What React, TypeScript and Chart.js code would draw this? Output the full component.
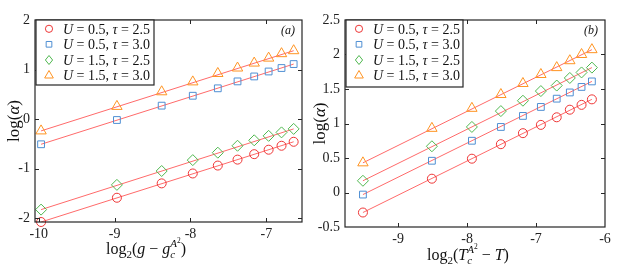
import React, { useEffect, useRef } from "react";
import { Chart, registerables } from "chart.js";

Chart.register(...registerables);

// ---------- data ----------
const legendU = ["0.5", "0.5", "1.5", "1.5"];
const legendTau = ["2.5", "3.0", "2.5", "3.0"];

// Panel (a)
const xA = [-9.97, -8.97, -8.38, -7.97, -7.64, -7.38, -7.16, -6.97, -6.8, -6.64];
const aU05t25 = [-2.08, -1.59, -1.3, -1.1, -0.94, -0.82, -0.71, -0.62, -0.54, -0.46];
const aU05t30 = [-0.51, -0.02, 0.27, 0.47, 0.62, 0.76, 0.86, 0.96, 1.03, 1.11];
const aU15t25 = [-1.83, -1.33, -1.05, -0.83, -0.68, -0.54, -0.43, -0.34, -0.27, -0.2];
const aU15t30 = [-0.24, 0.255, 0.55, 0.75, 0.92, 1.03, 1.13, 1.23, 1.32, 1.38];
const xFitA = [-9.97, -6.64];
const fitA_U05t25 = [-2.08, -0.46];
const fitA_U05t30 = [-0.51, 1.11];
const fitA_U15t25 = [-1.83, -0.2];
const fitA_U15t30 = [-0.24, 1.38];
const xTicksA = [-10, -9, -8, -7];
const yTicksA = [-2, -1, 0, 1, 2];

// Panel (b)
const xB = [-9.51, -8.51, -7.93, -7.51, -7.19, -6.93, -6.7, -6.51, -6.34, -6.19];
const bU05t25 = [-0.29, 0.2, 0.49, 0.7, 0.86, 0.98, 1.09, 1.2, 1.27, 1.35];
const bU05t30 = [-0.03, 0.46, 0.75, 0.95, 1.11, 1.24, 1.36, 1.45, 1.53, 1.61];
const bU15t25 = [0.17, 0.67, 0.95, 1.18, 1.33, 1.47, 1.55, 1.66, 1.74, 1.81];
const bU15t30 = [0.43, 0.93, 1.22, 1.42, 1.58, 1.71, 1.81, 1.91, 2.0, 2.07];
const xFitB = [-9.51, -6.19];
const fitB_U05t25 = [-0.29, 1.35];
const fitB_U05t30 = [-0.03, 1.61];
const fitB_U15t25 = [0.17, 1.81];
const fitB_U15t30 = [0.43, 2.07];
const xTicksB = [-9, -8, -7, -6];
const yTicksB = [-0.5, 0, 0.5, 1, 1.5, 2, 2.5];

// ---------- styles ----------
const FONT = '"Liberation Serif", "DejaVu Serif", serif';
const INK = "#262626";
const FIT = "rgba(255, 80, 80, 0.85)";
const markers = [
  { style: "circle", color: "#ee3535", r: 4.5, lr: 3.6 },
  { style: "rect", color: "#4f8fd3", r: 4.8, lr: 4 },
  { style: "rectRot", color: "#4fb84f", r: 5.5, lr: 4.5 },
  { style: "triangle", color: "#ff9422", r: 6, lr: 5 },
];

type Seg = { t: string; it?: boolean; s?: number; dy?: number; adv?: boolean };

function segFont(g: Seg, base: number) {
  return `${g.it ? "italic " : ""}${g.s ?? base}px ${FONT}`;
}
function measureSegs(ctx: CanvasRenderingContext2D, segs: Seg[], base: number) {
  let w = 0;
  for (const g of segs) {
    ctx.font = segFont(g, base);
    if (g.adv !== false) w += ctx.measureText(g.t).width;
  }
  return w;
}
function drawSegs(ctx: CanvasRenderingContext2D, segs: Seg[], x: number, y: number, base: number) {
  let cx = x;
  ctx.textAlign = "left";
  ctx.textBaseline = "alphabetic";
  for (const g of segs) {
    ctx.font = segFont(g, base);
    ctx.fillText(g.t, cx, y + (g.dy ?? 0));
    if (g.adv !== false) cx += ctx.measureText(g.t).width;
  }
}

const xTitleA: Seg[] = [
  { t: "log" },
  { t: "2", s: 11, dy: 4 },
  { t: "(" },
  { t: "g", it: true },
  { t: " − " },
  { t: "g", it: true },
  { t: "c", it: true, s: 11, dy: 4, adv: false },
  { t: "A", it: true, s: 11, dy: -7 },
  { t: "2", s: 7.5, dy: -11 },
  { t: ")" },
];
const xTitleB: Seg[] = [
  { t: "log" },
  { t: "2", s: 11, dy: 4 },
  { t: "(" },
  { t: "T", it: true },
  { t: "c", it: true, s: 11, dy: 4, adv: false },
  { t: "A", it: true, s: 11, dy: -7 },
  { t: "2", s: 7.5, dy: -11 },
  { t: " − " },
  { t: "T", it: true },
  { t: ")" },
];
const yTitle: Seg[] = [{ t: "log(" }, { t: "α", it: true }, { t: ")" }];

type PanelCfg = {
  x: number[];
  series: number[][];
  xFit: number[];
  fits: number[][];
  xTicks: number[];
  yTicks: number[];
  xMin: number;
  xMax: number;
  yMin: number;
  yMax: number;
  yAxisWidth: number;
  xAxisHeight: number;
  padRight: number;
  label: string;
  xTitle: Seg[];
  xTitleCx: number;
  xTitleBase: number;
  yTitleCx: number;
  legendW: number;
  legendH: number;
};

const panelA: PanelCfg = {
  x: xA,
  series: [aU05t25, aU05t30, aU15t25, aU15t30],
  xFit: xFitA,
  fits: [fitA_U05t25, fitA_U05t30, fitA_U15t25, fitA_U15t30],
  xTicks: xTicksA,
  yTicks: yTicksA,
  xMin: -10.05,
  xMax: -6.53,
  yMin: -2.08,
  yMax: 2,
  yAxisWidth: 35,
  xAxisHeight: 53,
  padRight: 7,
  label: "(a)",
  xTitle: xTitleA,
  xTitleCx: 146,
  xTitleBase: 253.5,
  yTitleCx: 14,
  legendW: 118,
  legendH: 65,
};

const panelB: PanelCfg = {
  x: xB,
  series: [bU05t25, bU05t30, bU15t25, bU15t30],
  xFit: xFitB,
  fits: [fitB_U05t25, fitB_U05t30, fitB_U15t25, fitB_U15t30],
  xTicks: xTicksB,
  yTicks: yTicksB,
  xMin: -9.77,
  xMax: -6,
  yMin: -0.5,
  yMax: 2.5,
  yAxisWidth: 36,
  xAxisHeight: 48,
  padRight: 13,
  label: "(b)",
  xTitle: xTitleB,
  xTitleCx: 159,
  xTitleBase: 259.5,
  yTitleCx: 10.5,
  legendW: 117,
  legendH: 67,
};

function drawMarker(ctx: CanvasRenderingContext2D, style: string, x: number, y: number, r: number, color: string) {
  ctx.save();
  ctx.strokeStyle = color;
  ctx.lineWidth = 1;
  ctx.beginPath();
  if (style === "circle") {
    ctx.arc(x, y, r, 0, Math.PI * 2);
  } else if (style === "rect") {
    const s = r * Math.SQRT1_2;
    ctx.rect(x - s, y - s, 2 * s, 2 * s);
  } else if (style === "rectRot") {
    ctx.moveTo(x, y - r);
    ctx.lineTo(x + r * 0.8, y);
    ctx.lineTo(x, y + r);
    ctx.lineTo(x - r * 0.8, y);
    ctx.closePath();
  } else {
    const a = Math.PI / 6;
    ctx.moveTo(x, y - r);
    ctx.lineTo(x + r * Math.cos(a), y + r * Math.sin(a));
    ctx.lineTo(x - r * Math.cos(a), y + r * Math.sin(a));
    ctx.closePath();
  }
  ctx.stroke();
  ctx.restore();
}

function makeDecorPlugin(cfg: PanelCfg) {
  return {
    id: "decor" + cfg.label,
    afterDraw(chart: any) {
      const ctx: CanvasRenderingContext2D = chart.ctx;
      const a = chart.chartArea;
      const xs = chart.scales.x;
      const ys = chart.scales.y;
      ctx.save();
      // frame
      ctx.strokeStyle = INK;
      ctx.lineWidth = 1.2;
      ctx.strokeRect(a.left, a.top, a.right - a.left, a.bottom - a.top);
      // inward ticks on all four sides
      ctx.lineWidth = 1;
      const tl = 4;
      ctx.beginPath();
      for (const v of cfg.xTicks) {
        const px = Math.round(xs.getPixelForValue(v)) + 0.5;
        if (px < a.left + 1 || px > a.right - 1) continue;
        ctx.moveTo(px, a.bottom);
        ctx.lineTo(px, a.bottom - tl);
        ctx.moveTo(px, a.top);
        ctx.lineTo(px, a.top + tl);
      }
      for (const v of cfg.yTicks) {
        const py = Math.round(ys.getPixelForValue(v)) + 0.5;
        if (py < a.top + 1 || py > a.bottom - 1) continue;
        ctx.moveTo(a.left, py);
        ctx.lineTo(a.left + tl, py);
        ctx.moveTo(a.right, py);
        ctx.lineTo(a.right - tl, py);
      }
      ctx.stroke();

      // legend
      const lx = a.left + 1;
      const ly = a.top;
      ctx.fillStyle = "#ffffff";
      ctx.fillRect(lx, ly, cfg.legendW, cfg.legendH);
      ctx.strokeStyle = INK;
      ctx.lineWidth = 1.2;
      ctx.strokeRect(lx, ly, cfg.legendW, cfg.legendH);
      const rows = [8.8, 24.3, 40, 55.5];
      ctx.fillStyle = "#111";
      for (let i = 0; i < 4; i++) {
        const ry = ly + rows[i];
        const m = markers[i];
        drawMarker(ctx, m.style, lx + 13, ry, m.lr, m.color);
        const segs: Seg[] = [
          { t: "U", it: true },
          { t: " = " + legendU[i] + ", " },
          { t: "τ", it: true },
          { t: " = " + legendTau[i] },
        ];
        ctx.fillStyle = "#111";
        drawSegs(ctx, segs, lx + 27, ry + 4.8, 14);
      }

      // panel label
      ctx.fillStyle = "#111";
      ctx.font = `italic 12px ${FONT}`;
      ctx.textAlign = "right";
      ctx.textBaseline = "alphabetic";
      ctx.fillText(cfg.label, a.right - 7, a.top + 14);

      // x title
      ctx.fillStyle = "#111";
      const w = measureSegs(ctx, cfg.xTitle, 16);
      drawSegs(ctx, cfg.xTitle, cfg.xTitleCx - w / 2, cfg.xTitleBase, 16);

      // y title
      const cy = (a.top + a.bottom) / 2;
      ctx.save();
      ctx.translate(cfg.yTitleCx + 5, cy);
      ctx.rotate(-Math.PI / 2);
      const wy = measureSegs(ctx, yTitle, 17);
      drawSegs(ctx, yTitle, -wy / 2, 0, 17);
      ctx.restore();

      ctx.restore();
    },
  };
}

function Panel({ cfg, left }: { cfg: PanelCfg; left: number }) {
  const ref = useRef<HTMLCanvasElement>(null);
  useEffect(() => {
    const canvas = ref.current;
    if (!canvas) return;
    const markerSets = cfg.series.map((ys, i) => ({
      label: "s" + i,
      data: ys.map((y, j) => ({ x: cfg.x[j], y })),
      pointStyle: markers[i].style,
      pointRadius: markers[i].r,
      pointBorderColor: markers[i].color,
      pointBackgroundColor: "rgba(0,0,0,0)",
      pointBorderWidth: 1,
      showLine: false,
      clip: false as any,
    }));
    const fitSets = cfg.fits.map((ys, i) => ({
      label: "fit" + i,
      data: ys.map((y, j) => ({ x: cfg.xFit[j], y })),
      showLine: true,
      borderColor: FIT,
      borderWidth: 1,
      pointRadius: 0,
      fill: false,
    }));
    const tickFont = { family: FONT, size: 14 };
    const chart = new Chart(canvas, {
      type: "scatter",
      data: { datasets: [...markerSets, ...fitSets] as any },
      options: {
        responsive: false,
        animation: false,
        layout: { padding: { top: 20, right: cfg.padRight, left: 0, bottom: 0 } },
        plugins: { legend: { display: false }, tooltip: { enabled: false } },
        scales: {
          x: {
            type: "linear",
            min: cfg.xMin,
            max: cfg.xMax,
            grid: { display: false, drawTicks: false },
            border: { display: false },
            afterBuildTicks: (s: any) => {
              s.ticks = cfg.xTicks.map((v) => ({ value: v }));
            },
            afterFit: (s: any) => {
              s.height = cfg.xAxisHeight;
            },
            ticks: {
              font: tickFont,
              color: "#222",
              padding: 4,
              maxRotation: 0,
              autoSkip: false,
              callback: (v: any) => String(v),
            },
          },
          y: {
            type: "linear",
            min: cfg.yMin,
            max: cfg.yMax,
            grid: { display: false, drawTicks: false },
            border: { display: false },
            afterBuildTicks: (s: any) => {
              s.ticks = cfg.yTicks.map((v) => ({ value: v }));
            },
            afterFit: (s: any) => {
              s.width = cfg.yAxisWidth;
            },
            ticks: {
              font: tickFont,
              color: "#222",
              padding: 5,
              autoSkip: false,
              callback: (v: any) => String(v),
            },
          },
        },
      },
      plugins: [makeDecorPlugin(cfg)],
    } as any);
    return () => chart.destroy();
  }, [cfg]);
  return (
    <canvas
      ref={ref}
      width={309}
      height={275}
      style={{ position: "absolute", left, top: 0, width: 309, height: 275 }}
    />
  );
}

export default function App() {
  return (
    <div
      style={{
        position: "fixed",
        left: 0,
        top: 0,
        width: 618,
        height: 275,
        background: "#ffffff",
        overflow: "hidden",
      }}
    >
      <Panel cfg={panelA} left={0} />
      <Panel cfg={panelB} left={309} />
    </div>
  );
}
